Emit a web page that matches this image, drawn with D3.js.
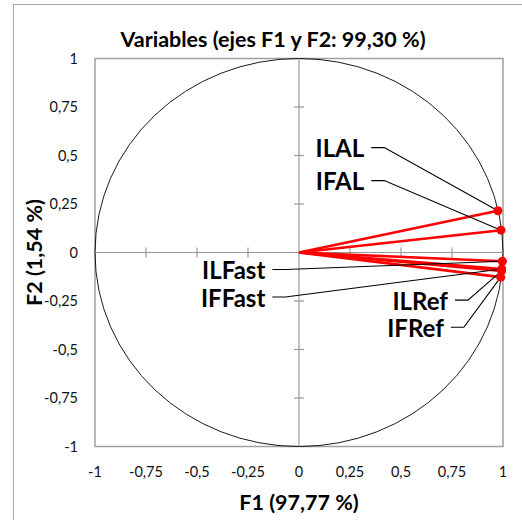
<!DOCTYPE html>
<html><head><meta charset="utf-8">
<script src="https://cdn.jsdelivr.net/npm/d3@7"></script>
<style>
html,body{margin:0;padding:0;background:#fff;}
svg{display:block;font-family:Lato,"Open Sans",sans-serif;}
</style></head>
<body>
<svg id="chart" width="522" height="520"></svg>
<script>
// ---- data ----
const variables = ["ILAL","IFAL","ILFast","IFFast","ILRef","IFRef"];
const f1Values = [0.975, 0.990, 0.997, 0.994, 0.993, 0.989];
const f2Values = [0.215, 0.115, -0.045, -0.085, -0.095, -0.127];
const tickValues = [-1,-0.75,-0.5,-0.25,0,0.25,0.5,0.75,1];
const tickLabels = ["-1","-0,75","-0,5","-0,25","0","0,25","0,5","0,75","1"];
const titleText = "Variables (ejes F1 y F2: 99,30 %)";
const xTitle = "F1 (97,77 %)";
const yTitle = "F2 (1,54 %)";

// label layout (chart units for the right end of each text)
const labelAnchorX = [0.32, 0.32, -0.165, -0.165, 0.73, 0.71];
const labelAnchorY = [0.533, 0.363, -0.095, -0.237, -0.253, -0.393];

const svg = d3.select("#chart");
const L = 95, R = 503, T = 58.5, B = 446.5;
const x = d3.scaleLinear().domain([-1,1]).range([L,R]);
const y = d3.scaleLinear().domain([-1,1]).range([B,T]);

// outer border
svg.append("rect").attr("x",13.5).attr("y",4.5).attr("width",700).attr("height",700)
  .attr("fill","#fff").attr("stroke","#a6a6a6").attr("stroke-width",1);

// plot area border
svg.append("rect").attr("x",L).attr("y",T).attr("width",R-L).attr("height",B-T)
  .attr("fill","none").attr("stroke","#a0a0a0").attr("stroke-width",1.5);

// circle
svg.append("ellipse").attr("cx",x(0)).attr("cy",y(0))
  .attr("rx",x(1)-x(0)).attr("ry",y(-1)-y(0))
  .attr("fill","none").attr("stroke","#000").attr("stroke-width",0.9);

// axes through origin
const g = svg.append("g");
g.append("line").attr("x1",x(-1)).attr("x2",x(1)).attr("y1",y(0)).attr("y2",y(0))
  .attr("stroke","#999").attr("stroke-width",1.2);
g.append("line").attr("x1",x(0)).attr("x2",x(0)).attr("y1",y(-1)).attr("y2",y(1))
  .attr("stroke","#999").attr("stroke-width",1.2);
const inner = tickValues.filter(v=>Math.abs(v)<1 && v!==0);
g.selectAll(".xt").data(inner).join("line")
  .attr("x1",d=>x(d)).attr("x2",d=>x(d)).attr("y1",y(0)-5).attr("y2",y(0)+5)
  .attr("stroke","#999").attr("stroke-width",1.2);
g.selectAll(".yt").data(inner).join("line")
  .attr("y1",d=>y(d)).attr("y2",d=>y(d)).attr("x1",x(0)-5).attr("x2",x(0)+5)
  .attr("stroke","#999").attr("stroke-width",1.2);

// tick labels
svg.selectAll(".xl").data(tickValues).join("text")
  .attr("x",d=>x(d)).attr("y",477).attr("text-anchor","middle")
  .attr("font-size",14.5).attr("fill","#111")
  .text((d,i)=>tickLabels[i]);
svg.selectAll(".yl").data(tickValues).join("text")
  .attr("x",78).attr("y",d=>y(d)).attr("dy","0.35em").attr("text-anchor","end")
  .attr("font-size",14.5).attr("fill","#111")
  .text((d,i)=>tickLabels[i]);

// titles
svg.append("text").attr("x",273).attr("y",47).attr("text-anchor","middle")
  .attr("font-size",21.5).attr("font-weight","bold").attr("fill","#000").text(titleText);
svg.append("text").attr("x",x(0)).attr("y",510).attr("text-anchor","middle")
  .attr("font-size",21.5).attr("font-weight","bold").attr("fill","#000").text(xTitle);
svg.append("text").attr("transform",`translate(42,${y(0)}) rotate(-90)`).attr("text-anchor","middle")
  .attr("font-size",21.5).attr("font-weight","bold").attr("fill","#000").text(yTitle);

// vectors
const pts = variables.map((n,i)=>({name:n,f1:f1Values[i],f2:f2Values[i],lx:labelAnchorX[i],ly:labelAnchorY[i]}));
svg.selectAll(".vec").data(pts).join("line")
  .attr("x1",x(0)).attr("y1",y(0)).attr("x2",d=>x(d.f1)).attr("y2",d=>y(d.f2))
  .attr("stroke","#ff0000").attr("stroke-width",2.6);

// leader lines
svg.selectAll(".lead").data(pts).join("path")
  .attr("d",d=>{const sx=x(d.lx)+7, sy=y(d.ly)-1.5;
    return `M${sx},${sy}H${sx+13}L${x(d.f1)},${y(d.f2)}`;})
  .attr("fill","none").attr("stroke","#000").attr("stroke-width",1.1);

// points
svg.selectAll(".pt").data(pts).join("circle")
  .attr("cx",d=>x(d.f1)).attr("cy",d=>y(d.f2)).attr("r",4.5).attr("fill","#ff0000");

// labels
svg.selectAll(".lab").data(pts).join("text")
  .attr("x",d=>x(d.lx)).attr("y",d=>y(d.ly)).attr("dy","0.35em").attr("text-anchor","end")
  .attr("font-size",24).attr("font-weight","bold").attr("fill","#000")
  .text(d=>d.name);
</script>
</body></html>
